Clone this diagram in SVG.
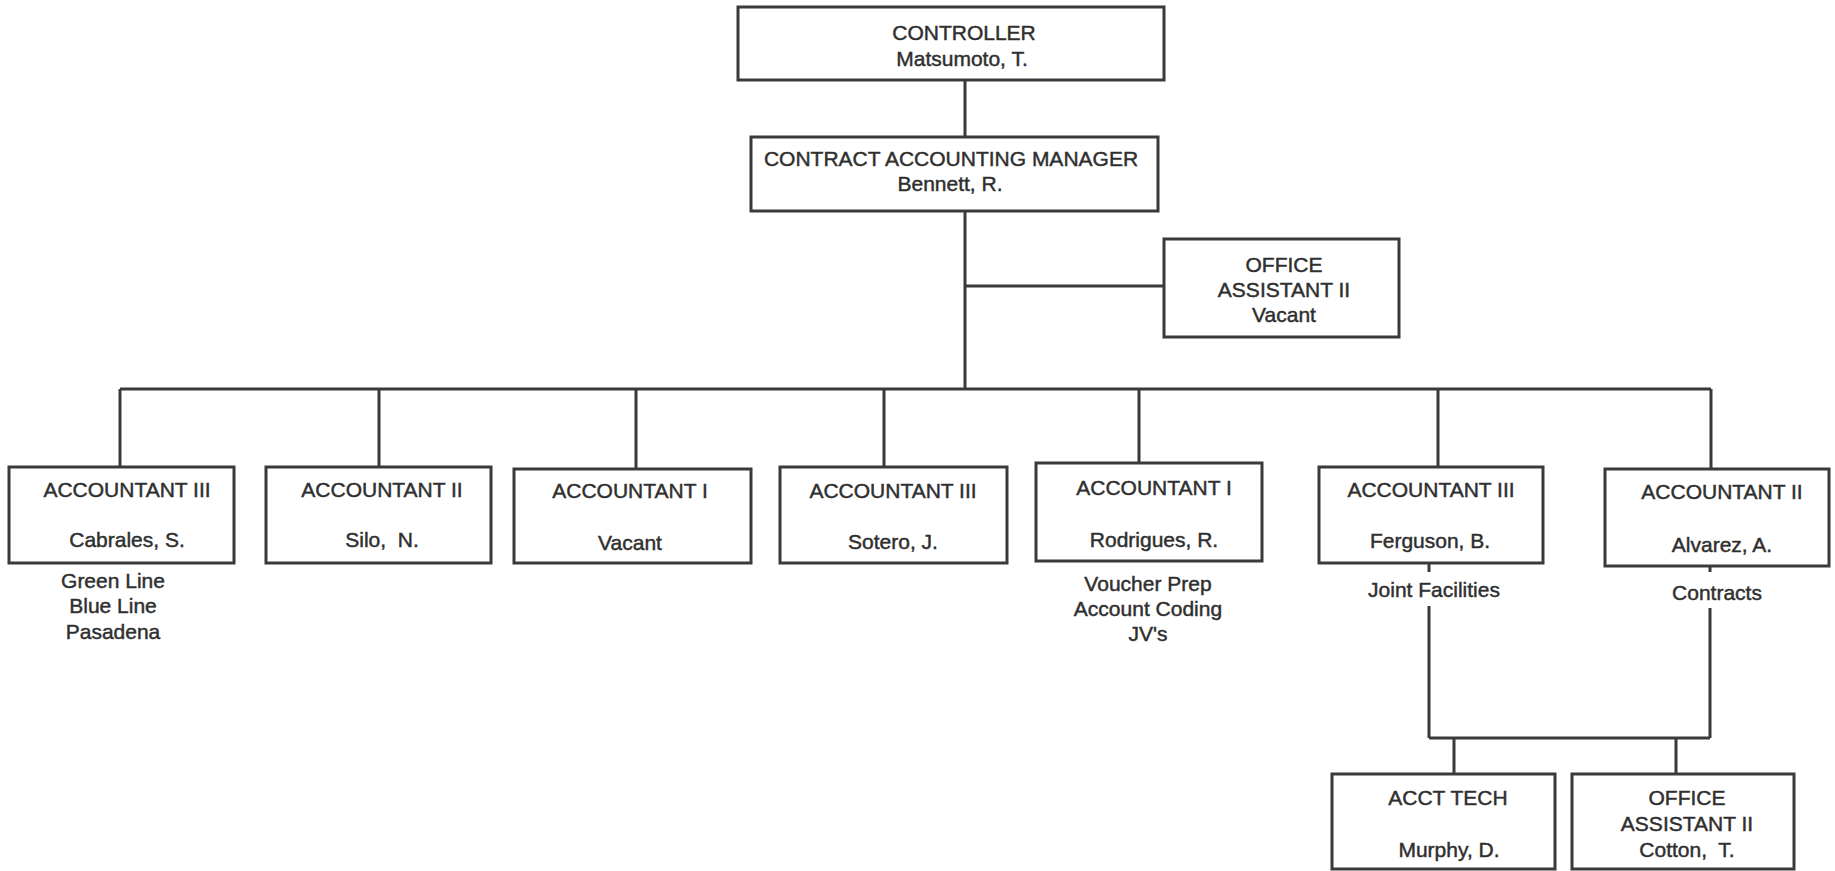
<svg xmlns="http://www.w3.org/2000/svg" width="1835" height="871" viewBox="0 0 1835 871">
<style>
.box{fill:#fff;stroke:#3a3a3a;stroke-width:3}
.ln{fill:none;stroke:#3a3a3a;stroke-width:3}
text{font-family:"Liberation Sans",Arial,sans-serif;font-size:21px;fill:#2f2f2f;stroke:#2f2f2f;stroke-width:0.45;text-anchor:middle;white-space:pre}
</style>
<rect width="1835" height="871" fill="#fff"/>
<g id="connectors">
<path class="ln" d="M965 80V137M965 211V389M965 286H1164"/>
<path class="ln" d="M120 389H1711M120 389V467M379 389V467M636 389V469M884 389V467M1139 389V463M1438 389V467M1711 389V469"/>
<path class="ln" d="M1429 563V572M1429 606V738M1710 566V572M1710 608V738M1429 738H1710M1454 738V774M1676 738V774"/>
</g>
<g id="controller">
<rect class="box" x="738" y="7" width="426" height="73"/>
<text x="964" y="40">CONTROLLER</text>
<text x="962" y="66">Matsumoto, T.</text>
</g>
<g id="manager">
<rect class="box" x="751" y="137" width="407" height="74"/>
<text x="951" y="166">CONTRACT ACCOUNTING MANAGER</text>
<text x="950" y="191">Bennett, R.</text>
</g>
<g id="office-assistant-1">
<rect class="box" x="1164" y="239" width="235" height="98"/>
<text x="1284" y="272">OFFICE</text>
<text x="1284" y="297">ASSISTANT II</text>
<text x="1284" y="322">Vacant</text>
</g>
<g id="acct-cabrales">
<rect class="box" x="9" y="467" width="225" height="96"/>
<text x="127" y="497">ACCOUNTANT III</text>
<text x="127" y="547">Cabrales, S.</text>
<text x="113" y="588">Green Line</text>
<text x="113" y="613">Blue Line</text>
<text x="113" y="639">Pasadena</text>
</g>
<g id="acct-silo">
<rect class="box" x="266" y="467" width="225" height="96"/>
<text x="382" y="497">ACCOUNTANT II</text>
<text x="382" y="547" xml:space="preserve">Silo,  N.</text>
</g>
<g id="acct-vacant">
<rect class="box" x="514" y="469" width="237" height="94"/>
<text x="630" y="498">ACCOUNTANT I</text>
<text x="630" y="550">Vacant</text>
</g>
<g id="acct-sotero">
<rect class="box" x="780" y="467" width="227" height="96"/>
<text x="893" y="498">ACCOUNTANT III</text>
<text x="893" y="549">Sotero, J.</text>
</g>
<g id="acct-rodrigues">
<rect class="box" x="1036" y="463" width="226" height="98"/>
<text x="1154" y="495">ACCOUNTANT I</text>
<text x="1154" y="547">Rodrigues, R.</text>
<text x="1148" y="591">Voucher Prep</text>
<text x="1148" y="616">Account Coding</text>
<text x="1148" y="641">JV's</text>
</g>
<g id="acct-ferguson">
<rect class="box" x="1319" y="467" width="224" height="96"/>
<text x="1431" y="497">ACCOUNTANT III</text>
<text x="1430" y="548">Ferguson, B.</text>
<text x="1434" y="597">Joint Facilities</text>
</g>
<g id="acct-alvarez">
<rect class="box" x="1605" y="469" width="224" height="97"/>
<text x="1722" y="499">ACCOUNTANT II</text>
<text x="1722" y="552">Alvarez, A.</text>
<text x="1717" y="600">Contracts</text>
</g>
<g id="acct-tech">
<rect class="box" x="1332" y="774" width="223" height="95"/>
<text x="1448" y="805">ACCT TECH</text>
<text x="1449" y="857">Murphy, D.</text>
</g>
<g id="office-assistant-2">
<rect class="box" x="1572" y="774" width="222" height="95"/>
<text x="1687" y="805">OFFICE</text>
<text x="1687" y="831">ASSISTANT II</text>
<text x="1687" y="857" xml:space="preserve">Cotton,  T.</text>
</g>
</svg>
